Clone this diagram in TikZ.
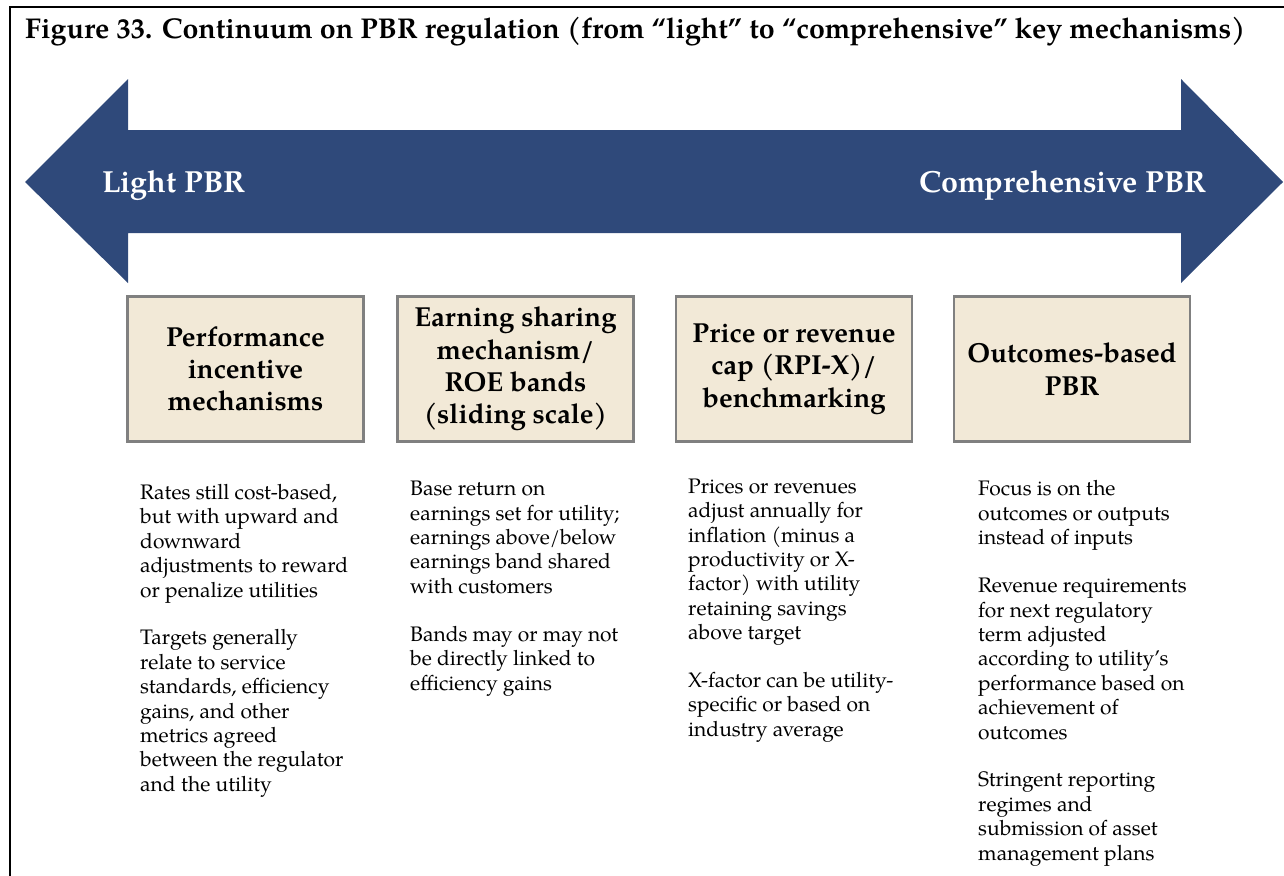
\documentclass[tikz,border=0pt]{standalone}
\usepackage{fontspec}
\setmainfont{texgyrepagella}[Extension=.otf,UprightFont=*-regular,BoldFont=*-bold,ItalicFont=*-italic,BoldItalicFont=*-bolditalic]
\definecolor{navy}{RGB}{47,73,122}
\definecolor{beige}{RGB}{242,233,215}
\definecolor{boxgray}{RGB}{128,128,128}
\tikzset{
  catbox/.style={draw=boxgray, line width=2.5pt, fill=beige, minimum width=236pt, minimum height=145pt, inner sep=0pt, align=center, font=\bfseries\fontsize{27.5}{32.3}\selectfont},
  desc/.style={anchor=north west, align=left, inner sep=0pt, font=\fontsize{21}{24.4}\selectfont},
  arrowlabel/.style={text=white, inner sep=0pt, font=\bfseries\fontsize{30.5}{34}\selectfont},
}
\begin{document}
\begin{tikzpicture}[x=1pt,y=-1pt]
\useasboundingbox (0,0) rectangle (1284,875);
% frame
\draw[line width=2.5pt] (1290,7) -- (10,7) -- (10,880);
% title
\node[anchor=base west, inner sep=0pt, font=\bfseries\fontsize{28.6}{32}\selectfont] (title) at (25,39) {Figure 33. Continuum on PBR regulation (from “light” to “comprehensive” key mechanisms)};
% double arrow
\fill[navy] (25,182) -- (128,79) -- (128,130) -- (1181,130) -- (1181,79) -- (1283,182) -- (1181,283) -- (1181,233) -- (128,233) -- (128,283) -- cycle;
\node[arrowlabel, anchor=base west] (light) at (102,192) {Light PBR};
\node[arrowlabel, anchor=base east] (comp) at (1207,192) {Comprehensive PBR};
% boxes
\node[catbox] (b1) at (245.5,369) {Performance\\incentive\\mechanisms};
\node[catbox] (b2) at (515.5,369) {Earning sharing\\mechanism/\\ROE bands\\(sliding scale)};
\node[catbox] (b3) at (794,369) {Price or revenue\\cap (RPI-X)/\\benchmarking};
\node[catbox] (b4) at (1072,369) {Outcomes-based\\PBR};
% descriptions
\node[desc] (d1) at (140,484) {Rates still cost-based,\\but with upward and\\downward\\adjustments to reward\\or penalize utilities\\[23.5pt]Targets generally\\relate to service\\standards, efficiency\\gains, and other\\metrics agreed\\between the regulator\\and the utility};
\node[desc] (d2) at (410,481) {Base return on\\earnings set for utility;\\earnings above/below\\earnings band shared\\with customers\\[23.5pt]Bands may or may not\\be directly linked to\\efficiency gains};
\node[desc] (d3) at (688,478.5) {Prices or revenues\\adjust annually for\\inflation (minus a\\productivity or X-\\factor) with utility\\retaining savings\\above target\\[23.5pt]X-factor can be utility-\\specific or based on\\industry average};
\node[desc] (d4) at (978,480.5) {Focus is on the\\outcomes or outputs\\instead of inputs\\[23.5pt]Revenue requirements\\for next regulatory\\term adjusted\\according to utility’s\\performance based on\\achievement of\\outcomes\\[23.5pt]Stringent reporting\\regimes and\\submission of asset\\management plans};
\end{tikzpicture}
\end{document}
